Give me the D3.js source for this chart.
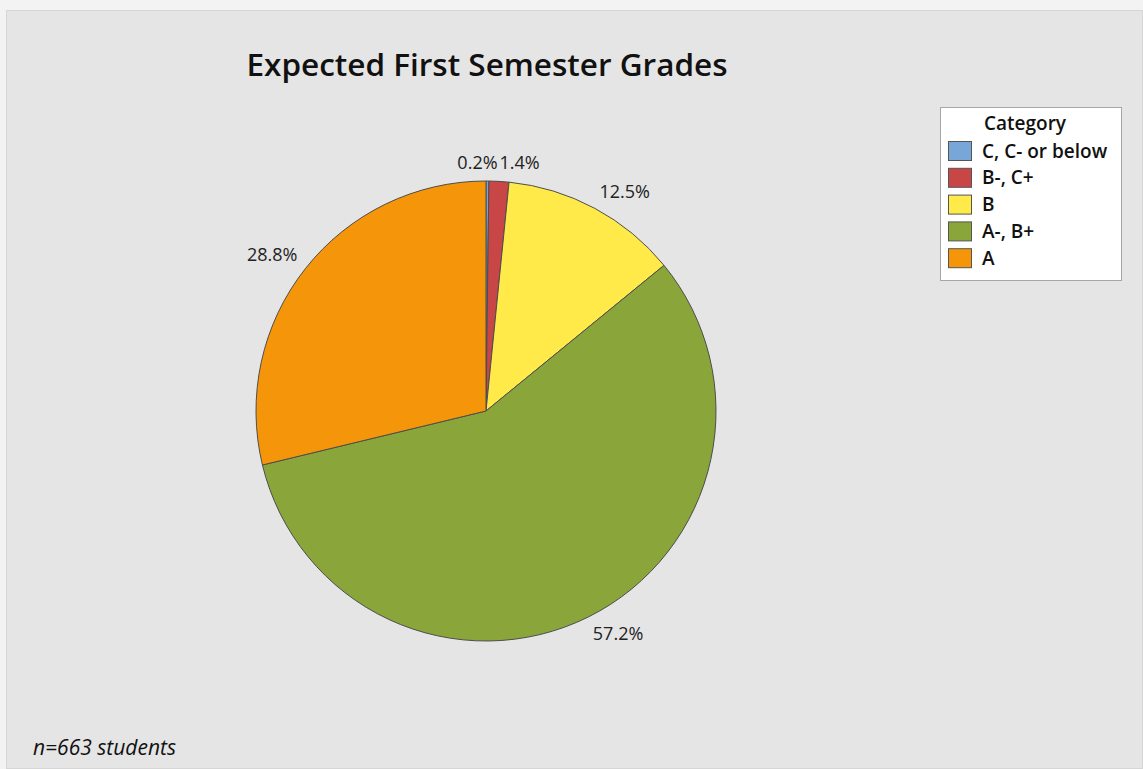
<!DOCTYPE html>
<html>
<head>
<meta charset="utf-8">
<script src="https://cdn.jsdelivr.net/npm/d3@7"></script>
<style>
html,body{margin:0;padding:0;background:#f3f3f3;}
svg{display:block;font-family:"Open Sans","Noto Sans",sans-serif;}
</style>
</head>
<body>
<svg id="chart" width="1143" height="769"></svg>
<script>
const categories = ["C, C- or below", "B-, C+", "B", "A-, B+", "A"];
const percents = [0.2, 1.4, 12.5, 57.2, 28.8];
const colors = ["#79A6D8", "#C84646", "#FFEA4A", "#8AA53A", "#F5960A"];
const title = "Expected First Semester Grades";
const legendTitle = "Category";
const footnote = "n=663 students";

const svg = d3.select("#chart");
const W = 1143, H = 769;

svg.append("rect").attr("x", 6.5).attr("y", 10.5).attr("width", W - 7).attr("height", H - 11)
  .attr("fill", "#e5e5e5").attr("stroke", "#d6d6d6");

svg.append("text").attr("x", 487).attr("y", 76).attr("text-anchor", "middle")
  .attr("font-size", 31.5).attr("font-weight", 600).attr("fill", "#111").text(title);

const cx = 486, cy = 411, R = 230;
const data = categories.map((c, i) => ({cat: c, value: percents[i], color: colors[i]}));
const pie = d3.pie().value(d => d.value).sort(null);
const arcs = pie(data);
const arc = d3.arc().innerRadius(0).outerRadius(R);

const g = svg.append("g").attr("transform", `translate(${cx},${cy})`);
g.selectAll("path").data(arcs).join("path")
  .attr("d", arc).attr("fill", d => d.data.color)
  .attr("stroke", "#4d4d4d").attr("stroke-width", 1).attr("stroke-linejoin", "round");

const labelArc = d3.arc().innerRadius(R + 10).outerRadius(R + 10);
const pos = arcs.map(a => labelArc.centroid(a));
arcs.forEach((a, i) => {
  const mid = (a.startAngle + a.endAngle) / 2;
  let [x, y] = pos[i];
  let anchor = Math.sin(mid) >= 0 ? "start" : "end";
  // avoid overlap of adjacent tiny slices near the top
  if (i + 1 < arcs.length && (a.endAngle - a.startAngle) < 0.05 && Math.abs(Math.sin(mid)) < 0.1) {
    anchor = "end";
    x = pos[i + 1][0] - 2;
  }
  const top = Math.cos(mid) > 0;
  g.append("text").attr("x", x).attr("y", top ? y - 2 : y + 14)
    .attr("text-anchor", anchor).attr("font-size", 18).attr("fill", "#222")
    .text(d3.format(".1f")(a.data.value) + "%");
});

// legend
const lx = 940, ly = 107;
const lg = svg.append("g");
lg.append("rect").attr("x", lx + 0.5).attr("y", ly + 0.5).attr("width", 181).attr("height", 173)
  .attr("fill", "#fff").attr("stroke", "#a6a6a6");
lg.append("text").attr("x", 1025).attr("y", 130).attr("text-anchor", "middle")
  .attr("font-size", 19).attr("font-weight", 600).attr("fill", "#111").text(legendTitle);
const ls = d3.scaleBand().domain(categories).range([141, 141 + 26.8 * 5]);
categories.forEach((c, i) => {
  const y = ls(c);
  lg.append("rect").attr("x", 948.5).attr("y", y + 0.5).attr("width", 23).attr("height", 19)
    .attr("fill", colors[i]).attr("stroke", "#555");
  lg.append("text").attr("x", 982).attr("y", y + 16.5).attr("font-size", 19).attr("font-weight", 600)
    .attr("fill", "#111").text(c);
});

svg.append("text").attr("x", 33).attr("y", 755).attr("font-size", 21).attr("font-style", "italic")
  .attr("fill", "#111").text(footnote);
</script>
</body>
</html>
